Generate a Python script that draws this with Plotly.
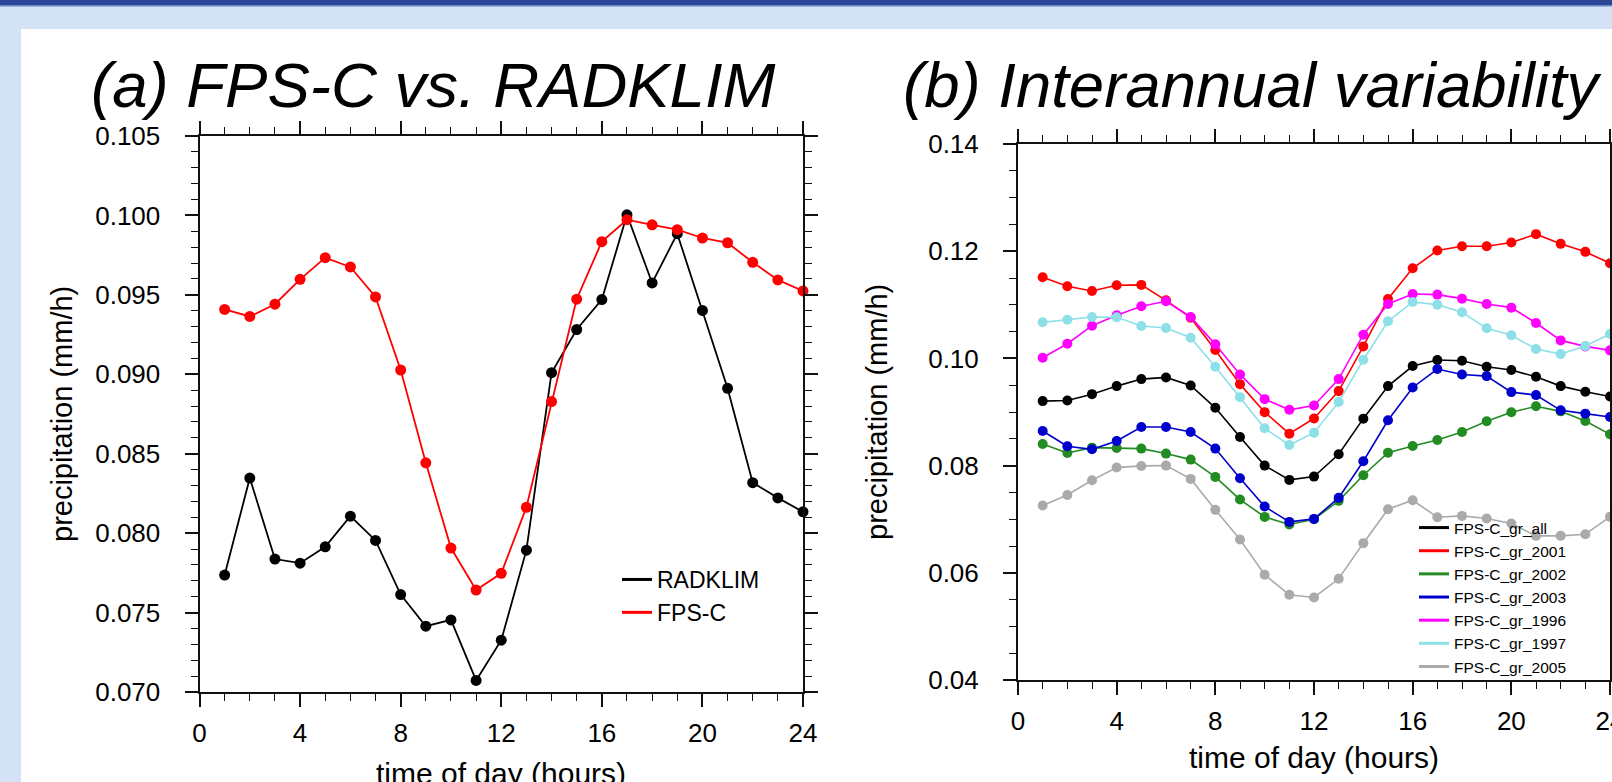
import plotly.graph_objects as go

# ---------------- data ----------------
hours = list(range(1, 25))

radklim = [0.07736, 0.08347, 0.07837, 0.07811, 0.07914, 0.08107, 0.07954, 0.07613,
           0.07414, 0.07454, 0.07073, 0.07326, 0.07893, 0.0901, 0.09282, 0.0947,
           0.10004, 0.09575, 0.09885, 0.09402, 0.08912, 0.08318, 0.08222, 0.08134]
fpsc = [0.09408, 0.09364, 0.09441, 0.09598, 0.09734, 0.09676, 0.09487, 0.09027,
        0.08443, 0.07906, 0.07642, 0.07747, 0.08163, 0.08828, 0.09473, 0.09835,
        0.09973, 0.09941, 0.0991, 0.09858, 0.09828, 0.09705, 0.09594, 0.09525]

gr_all = [0.09203, 0.09215, 0.09333, 0.09483, 0.09614, 0.09645, 0.09495, 0.09078,
          0.08534, 0.0800, 0.07733, 0.07795, 0.08211, 0.08876, 0.09483, 0.09857,
          0.09969, 0.09956, 0.09844, 0.09782, 0.09657, 0.09483, 0.09377, 0.0929]
gr_2001 = [0.11514, 0.11346, 0.11259, 0.11364, 0.11371, 0.11084, 0.1076, 0.10156,
           0.0952, 0.08997, 0.08596, 0.0888, 0.0939, 0.10224, 0.11109, 0.11682,
           0.12012, 0.12093, 0.12093, 0.12162, 0.12318, 0.12137, 0.11988, 0.11776]
gr_2002 = [0.08404, 0.08236, 0.08335, 0.08329, 0.08317, 0.08224, 0.08112, 0.07789,
           0.07366, 0.07043, 0.06901, 0.0700, 0.07342, 0.0782, 0.08242, 0.08366,
           0.08478, 0.08627, 0.08826, 0.08994, 0.09106, 0.09012, 0.08832, 0.08584]
gr_2003 = [0.08646, 0.0836, 0.08304, 0.0846, 0.0872, 0.0872, 0.08627, 0.08317,
           0.07764, 0.07236, 0.0695, 0.07006, 0.07398, 0.08081, 0.08845, 0.09458,
           0.09801, 0.09701, 0.0967, 0.09371, 0.09315, 0.09031, 0.08969, 0.08907]
gr_1996 = [0.10012, 0.10274, 0.1061, 0.10804, 0.10972, 0.11065, 0.10773, 0.10262,
           0.09701, 0.0924, 0.09041, 0.09122, 0.09614, 0.10442, 0.11016, 0.11202,
           0.1119, 0.11115, 0.11016, 0.10947, 0.1066, 0.10336, 0.10224, 0.1015]
gr_1997 = [0.10673, 0.10723, 0.10773, 0.10766, 0.10604, 0.10567, 0.10386, 0.09844,
           0.09277, 0.08696, 0.08385, 0.08615, 0.09185, 0.09975, 0.10692, 0.11053,
           0.11003, 0.1086, 0.10561, 0.10431, 0.10174, 0.10081, 0.1023, 0.10455]
gr_2005 = [0.07255, 0.07453, 0.07727, 0.07963, 0.07994, 0.0800, 0.07752, 0.07174,
           0.06621, 0.05963, 0.0559, 0.0554, 0.05888, 0.06553, 0.07186, 0.07354,
           0.07037, 0.07062, 0.07012, 0.06919, 0.06689, 0.06689, 0.0672, 0.07044]

left_series = [("RADKLIM", radklim, "black"), ("FPS-C", fpsc, "#ff0000")]
right_series = [
    ("FPS-C_gr_all", gr_all, "black"),
    ("FPS-C_gr_2001", gr_2001, "#ff0000"),
    ("FPS-C_gr_2002", gr_2002, "#228b22"),
    ("FPS-C_gr_2003", gr_2003, "#0000cd"),
    ("FPS-C_gr_1996", gr_1996, "#ff00ff"),
    ("FPS-C_gr_1997", gr_1997, "#8ee0e8"),
    ("FPS-C_gr_2005", gr_2005, "#aaaaaa"),
]

x_ticks = [0, 4, 8, 12, 16, 20, 24]
x_minor = list(range(0, 25))
yl_ticks = [0.070, 0.075, 0.080, 0.085, 0.090, 0.095, 0.100, 0.105]
yl_labels = ["0.070", "0.075", "0.080", "0.085", "0.090", "0.095", "0.100", "0.105"]
yl_minor = [round(0.070 + 0.001 * i, 3) for i in range(36)]
yr_ticks = [0.04, 0.06, 0.08, 0.10, 0.12, 0.14]
yr_labels = ["0.04", "0.06", "0.08", "0.10", "0.12", "0.14"]
yr_minor = [round(0.04 + 0.005 * i, 3) for i in range(21)]

title_a = "(a) FPS-C vs. RADKLIM"
title_b = "(b) Interannual variability"
x_title = "time of day (hours)"
y_title = "precipitation (mm/h)"

# ---------------- layout helpers ----------------
W, H = 1612, 782
FONT = "Liberation Sans, Arial, Helvetica, sans-serif"


def px(x):
    return x / W


def py(y):
    return 1 - y / H


fig = go.Figure()

for name, vals, col in left_series:
    fig.add_trace(go.Scatter(x=hours, y=vals, mode="lines+markers", name=name,
                             line=dict(color=col, width=1.8),
                             marker=dict(color=col, size=11),
                             xaxis="x", yaxis="y", showlegend=False, cliponaxis=False))
for name, vals, col in left_series:
    fig.add_trace(go.Scatter(x=[None], y=[None], mode="lines", name=name,
                             line=dict(color=col, width=3),
                             xaxis="x", yaxis="y", legend="legend"))

for name, vals, col in right_series:
    fig.add_trace(go.Scatter(x=hours, y=vals, mode="lines+markers", name=name,
                             line=dict(color=col, width=1.6),
                             marker=dict(color=col, size=10),
                             xaxis="x2", yaxis="y2", showlegend=False, cliponaxis=False))
for name, vals, col in right_series:
    fig.add_trace(go.Scatter(x=[None], y=[None], mode="lines", name=name,
                             line=dict(color=col, width=3),
                             xaxis="x2", yaxis="y2", legend="legend2"))

axis_common = dict(showline=True, linecolor="#111111", linewidth=2, mirror="allticks",
                   ticks="outside", ticklen=13, tickwidth=1.6, tickcolor="#111111",
                   showgrid=False, zeroline=False, automargin=False,
                   ticklabeloverflow="allow",
                   tickfont=dict(family=FONT, size=26, color="black"))


def minor(vals):
    return dict(tickmode="array", tickvals=vals, ticks="outside", ticklen=7,
                tickwidth=1.3, tickcolor="#111111", showgrid=False)


L = dict(x0=199.5, x1=803, y0=136, y1=692)
R = dict(x0=1018, x1=1610, y0=144, y1=680)

fig.update_layout(
    width=W, height=H,
    margin=dict(l=0, r=0, t=0, b=0, pad=0, autoexpand=False),
    paper_bgcolor="#d3e2f5",
    plot_bgcolor="white",
    font=dict(family=FONT, color="black"),
    xaxis=dict(domain=[px(L["x0"]), px(L["x1"])], range=[0, 24], anchor="y",
               tickmode="array", tickvals=x_ticks, ticklabelstandoff=4,
               minor=minor(x_minor), **axis_common),
    yaxis=dict(domain=[py(L["y1"]), py(L["y0"])], range=[0.070, 0.105], anchor="x",
               tickmode="array", tickvals=yl_ticks, ticktext=yl_labels,
               ticklabelstandoff=19, minor=minor(yl_minor), **axis_common),
    xaxis2=dict(domain=[px(R["x0"]), px(R["x1"])], range=[0, 24], anchor="y2",
                tickmode="array", tickvals=x_ticks, ticklabelstandoff=4,
                minor=minor(x_minor), **axis_common),
    yaxis2=dict(domain=[py(R["y1"]), py(R["y0"])], range=[0.04, 0.14], anchor="x2",
                tickmode="array", tickvals=yr_ticks, ticktext=yr_labels,
                ticklabelstandoff=19, minor=minor(yr_minor), **axis_common),
    legend=dict(x=px(617), y=py(558), xanchor="left", yanchor="top",
                bgcolor="rgba(0,0,0,0)", font=dict(family=FONT, size=23, color="black"),
                tracegroupgap=0, itemclick=False),
    legend2=dict(x=px(1414), y=py(511), xanchor="left", yanchor="top",
                 bgcolor="rgba(0,0,0,0)", font=dict(family=FONT, size=15.5, color="black"),
                 tracegroupgap=0, itemclick=False),
    shapes=[
        dict(type="rect", xref="paper", yref="paper", x0=px(21), x1=1.0, y0=0, y1=py(29),
             fillcolor="white", line=dict(width=0), layer="below"),
        dict(type="rect", xref="paper", yref="paper", x0=0, x1=1, y0=py(5), y1=1,
             fillcolor="#2b4597", line=dict(width=0), layer="below"),
        dict(type="rect", xref="paper", yref="paper", x0=0, x1=1, y0=py(6.5), y1=py(5),
             fillcolor="#6d86c4", line=dict(width=0), layer="below"),
    ],
)

annotations = [
    dict(text=title_a, x=px(89), y=py(85), xanchor="left", yanchor="middle",
         font=dict(size=63.5, style="italic")),
    dict(text=title_b, x=px(901), y=py(85), xanchor="left", yanchor="middle",
         font=dict(size=63.5, style="italic")),
    dict(text=x_title, x=px((L["x0"] + L["x1"]) / 2), y=py(773), xanchor="center",
         yanchor="middle", font=dict(size=30)),
    dict(text=x_title, x=px((R["x0"] + R["x1"]) / 2), y=py(757), xanchor="center",
         yanchor="middle", font=dict(size=30)),
    dict(text=y_title, x=px(62), y=py((L["y0"] + L["y1"]) / 2), textangle=-90,
         xanchor="center", yanchor="middle", font=dict(size=29)),
    dict(text=y_title, x=px(877), y=py((R["y0"] + R["y1"]) / 2), textangle=-90,
         xanchor="center", yanchor="middle", font=dict(size=29)),
]
for a in annotations:
    a.update(xref="paper", yref="paper", showarrow=False)
    a["font"].update(family=FONT, color="black")
fig.update_layout(annotations=annotations)

fig.write_html("out.html", config={"displayModeBar": False},
               post_script="document.body.style.margin='0';document.body.style.overflow='hidden';")
